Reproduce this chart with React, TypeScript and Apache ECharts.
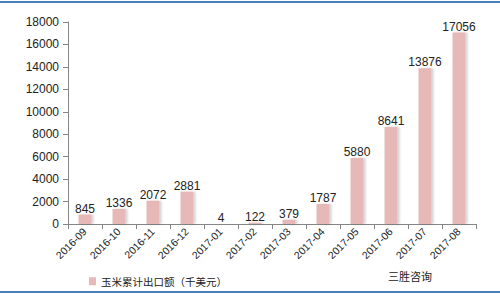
import React, { useEffect, useRef } from "react";
import * as echarts from "echarts";

const categories = ["2016-09", "2016-10", "2016-11", "2016-12", "2017-01", "2017-02", "2017-03", "2017-04", "2017-05", "2017-06", "2017-07", "2017-08"];
const values = [845, 1336, 2072, 2881, 4, 122, 379, 1787, 5880, 8641, 13876, 17056];
const seriesName = "玉米累计出口额（千美元）";
const sourceText = "三胜咨询";

export default function App() {
  const ref = useRef<HTMLDivElement>(null);
  useEffect(() => {
    if (!ref.current) return;
    const chart = echarts.init(ref.current, null, { renderer: "svg" });
    const font = "'Liberation Sans', Arial, sans-serif";
    const cjk = "'Noto Sans CJK SC', sans-serif";
    chart.setOption({
      animation: false,
      backgroundColor: "#ffffff",
      grid: { left: 68, right: 24, top: 22, bottom: 75 },
      legend: {
        left: 84,
        top: 271,
        itemWidth: 7,
        itemHeight: 8,
        itemGap: 4,
        icon: "rect",
        textStyle: { fontSize: 10.5, color: "#222", fontFamily: cjk },
        data: [seriesName],
      },
      xAxis: {
        type: "category",
        data: categories,
        axisLine: { lineStyle: { color: "#868686" } },
        axisTick: { show: true, alignWithLabel: false, length: 5, lineStyle: { color: "#868686" } },
        axisLabel: { rotate: 45, fontSize: 10.5, color: "#222", fontFamily: font, interval: 0, margin: 6 },
      },
      yAxis: {
        type: "value",
        min: 0,
        max: 18000,
        interval: 2000,
        splitLine: { show: false },
        axisLine: { show: true, lineStyle: { color: "#868686" } },
        axisTick: { show: true, length: 5, lineStyle: { color: "#868686" } },
        axisLabel: { fontSize: 12, color: "#222", fontFamily: font, margin: 9, formatter: (v: number) => String(v) },
      },
      series: [
        {
          name: seriesName,
          type: "bar",
          data: values,
          barWidth: 13,
          itemStyle: {
            color: "#e6b9b8",
            shadowColor: "rgba(0,0,0,0.18)",
            shadowOffsetX: 2,
            shadowOffsetY: 0,
            shadowBlur: 2,
          },
          label: {
            show: true,
            position: "top",
            distance: 0,
            fontSize: 12,
            color: "#222",
            fontFamily: font,
          },
        },
      ],
      graphic: [
        { type: "rect", shape: { x: 0, y: 1, width: 500, height: 2 }, style: { fill: "#4a7ebb" } },
        { type: "rect", shape: { x: 0, y: 291, width: 500, height: 2 }, style: { fill: "#4a7ebb" } },
        {
          type: "text",
          left: 388,
          top: 270,
          style: { text: sourceText, fontSize: 11, fill: "#222", fontFamily: cjk },
        },
      ],
    });
    return () => chart.dispose();
  }, []);
  return <div ref={ref} style={{ position: "absolute", left: 0, top: 0, width: 500, height: 299 }} />;
}
